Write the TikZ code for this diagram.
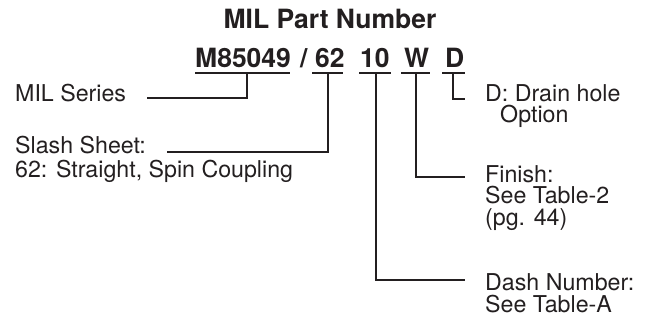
\documentclass[tikz,border=0pt]{standalone}
\usepackage{fontspec}
\setmainfont{TeX Gyre Heros}
\usetikzlibrary{calc}
\definecolor{ink}{HTML}{231F20}
\begin{document}
\begin{tikzpicture}[x=1pt,y=-1pt,
  lbl/.style={anchor=base west,inner sep=0pt,text=ink,font=\fontsize{23.2}{28}\selectfont},
  big/.style={anchor=base west,inner sep=0pt,text=ink,font=\fontsize{26.5}{32}\selectfont\bfseries},
  conn/.style={draw=ink,line width=1.6pt}]
\useasboundingbox (0,0) rectangle (650,322);
% title
\node[big,anchor=base] (title) at (330,28) {MIL Part Number};
% part number pieces
\node[big] (pm) at (195,67) {M85049};
\node[big] (ps) at (300,67) {/};
\node[big] (p62) at (315,67) {62};
\node[big] (p10) at (360,67) {10};
\node[big] (pw) at (404,67) {W};
\node[big] (pd) at (445,67) {D};
% underlines
\draw[conn] (195,73) -- (290,73);
\draw[conn] (312,73) -- (343,73);
\draw[conn] (359,73) -- (391,73);
\draw[conn] (401,73) -- (430,73);
\draw[conn] (442,73) -- (465,73);
% labels
\node[lbl] (mil) at (15,101) {MIL Series};
\node[lbl] (slash) at (15,153) {Slash Sheet:};
\node[lbl] (slash2) at (15,177) {62: Straight, Spin Coupling};
\node[lbl] (drain) at (485,101) {D: Drain hole};
\node[lbl] (drain2) at (500,122) {Option};
\node[lbl] (fin) at (485,182) {Finish:};
\node[lbl] (fin2) at (485,203) {See Table-2};
\node[lbl] (fin3) at (485,225) {(pg. 44)};
\node[lbl] (dash) at (485,290) {Dash Number:};
\node[lbl] (dash2) at (485,312) {See Table-A};
% connector points
\coordinate (tm) at (247,73);
\coordinate (em) at (147,98);
\coordinate (t62) at (328,73);
\coordinate (e62) at (167,152);
\coordinate (t10) at (376,73);
\coordinate (e10) at (465,280);
\coordinate (tw) at (416,73);
\coordinate (ew) at (465,177);
\coordinate (td) at (453,73);
\coordinate (ed) at (465,99);
% connectors
\draw[conn] (tm) |- (em);
\draw[conn] (t62) |- (e62);
\draw[conn] (t10) |- (e10);
\draw[conn] (tw) |- (ew);
\draw[conn] (td) |- (ed);
\end{tikzpicture}
\end{document}
